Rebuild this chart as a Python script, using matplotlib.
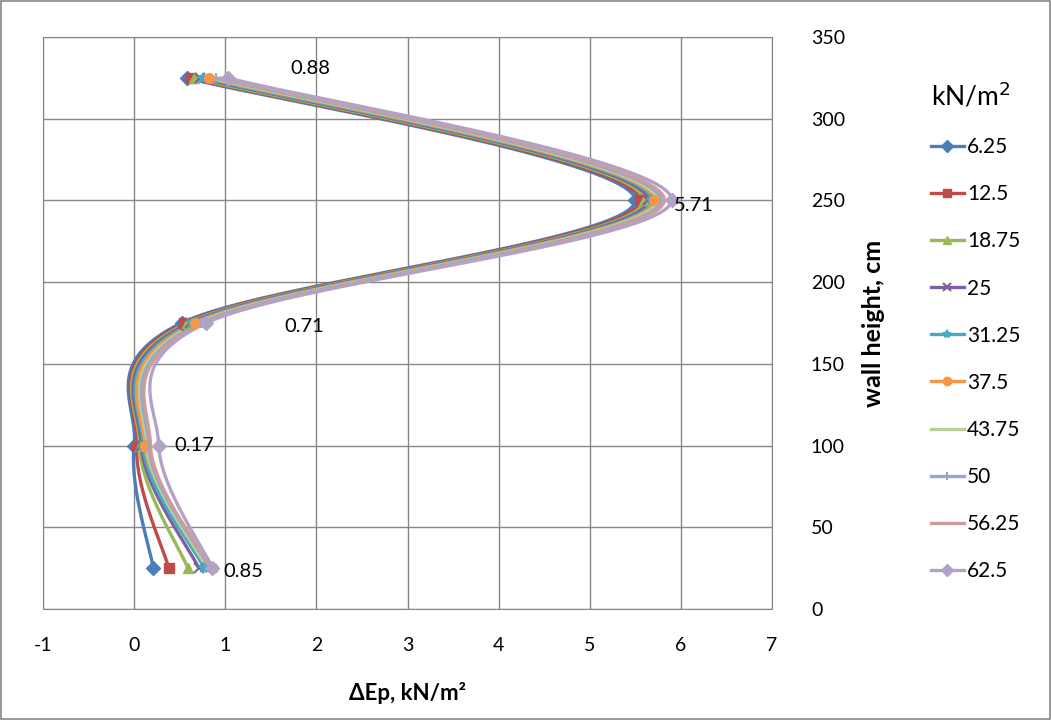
import numpy as np
import matplotlib
matplotlib.use("Agg")
import matplotlib.pyplot as plt
from matplotlib.lines import Line2D
from matplotlib.patches import Rectangle

plt.rcParams['font.family'] = ['Lato', 'DejaVu Sans']
plt.rcParams['axes.unicode_minus'] = False

# heights of the points, cm
heights = [25, 100, 175, 250, 325]

# load cases, kN/m2
loads = ['6.25', '12.5', '18.75', '25', '31.25', '37.5', '43.75', '50', '56.25', '62.5']

# dEp at each height for each load case
dep = {
    '6.25':  [0.21, 0.00, 0.52, 5.50, 0.58],
    '12.5':  [0.38, 0.03, 0.55, 5.55, 0.62],
    '18.75': [0.59, 0.06, 0.58, 5.60, 0.66],
    '25':    [0.71, 0.08, 0.61, 5.64, 0.72],
    '31.25': [0.77, 0.10, 0.64, 5.68, 0.76],
    '37.5':  [0.87, 0.12, 0.67, 5.71, 0.82],
    '43.75': [0.80, 0.14, 0.70, 5.74, 0.86],
    '50':    [0.83, 0.16, 0.73, 5.78, 0.90],
    '56.25': [0.84, 0.18, 0.76, 5.82, 0.95],
    '62.5':  [0.86, 0.27, 0.79, 5.90, 1.03],
}

colors = ['#4A7EBB', '#BE4B48', '#98B954', '#7D60A0', '#46AAC5',
          '#F79646', '#B9CF96', '#92A9CF', '#D09C9A', '#B3A2C7']
markers = ['D', 's', '^', 'x', '*', 'o', None, '|', None, 'D']

# value labels
notes = [('0.88', 1.72, 331), ('5.71', 5.92, 247), ('0.71', 1.65, 173),
         ('0.17', 0.44, 100), ('0.85', 0.98, 23)]


def smooth(xs, ys, n=40):
    """Excel-like smoothed line (Catmull-Rom bezier through the points)"""
    p = np.column_stack([xs, ys]).astype(float)
    pts = np.vstack([p[0], p, p[-1]])
    out = []
    t = np.linspace(0, 1, n)[:, None]
    for i in range(1, len(pts) - 2):
        p0, p1, p2, p3 = pts[i - 1], pts[i], pts[i + 1], pts[i + 2]
        c1 = p1 + (p2 - p0) / 6
        c2 = p2 - (p3 - p1) / 6
        seg = ((1 - t) ** 3 * p1 + 3 * (1 - t) ** 2 * t * c1
               + 3 * (1 - t) * t ** 2 * c2 + t ** 3 * p2)
        out.append(seg if i == 1 else seg[1:])
    out = np.vstack(out)
    return out[:, 0], out[:, 1]


fig = plt.figure(figsize=(10.51, 7.2), dpi=100)
ax = fig.add_axes([43 / 1051, 111 / 720, 729 / 1051, 572 / 720])

handles = []
for lab, c, m in zip(loads, colors, markers):
    sx, sy = smooth(dep[lab], heights)
    ax.plot(sx, sy, color=c, lw=2.4, solid_capstyle='round', zorder=2)
    mew = 1.5 if m in ('x', '|', '*') else 1
    if m is not None:
        ax.plot(dep[lab], heights, ls='none', marker=m, color=c, ms=7,
                mew=mew, zorder=3)
    handles.append(Line2D([], [], color=c, lw=2.4, marker=m, ms=6, mew=mew))

for txt, x, y in notes:
    ax.text(x, y, txt, fontsize=14.5, ha='left', va='center')

ax.set_xlim(-1, 7)
ax.set_ylim(0, 350)
ax.set_xticks(range(-1, 8))
ax.set_yticks(range(0, 351, 50))
ax.grid(True, color='#868686', lw=1)
ax.set_axisbelow(True)
for s in ax.spines.values():
    s.set_color('#868686')
ax.yaxis.tick_right()
ax.yaxis.set_label_position('right')
ax.tick_params(axis='y', length=0, pad=28, labelsize=14)
ax.tick_params(axis='x', length=0, pad=20, labelsize=14)
for t in ax.get_yticklabels():
    t.set_horizontalalignment('left')
ax.set_xlabel('ΔEp, kN/m²', fontsize=16, fontweight='bold', labelpad=20)
ax.set_ylabel('wall height, cm', fontsize=18, fontweight='bold', labelpad=12)

leg = fig.legend(handles, loads, loc='upper left', bbox_to_anchor=(912 / 1051, 1 - 62 / 720),
                 frameon=False, fontsize=15, labelspacing=1.3, handlelength=1.6,
                 handletextpad=0.15, title='kN/m$^2$', title_fontsize=19)
leg._legend_box.align = 'left'

fig.patches.append(Rectangle((0.001, 0.001), 0.998, 0.997, transform=fig.transFigure,
                             fill=False, edgecolor='#868686', lw=1.2))

fig.savefig('out.png', dpi=100)
